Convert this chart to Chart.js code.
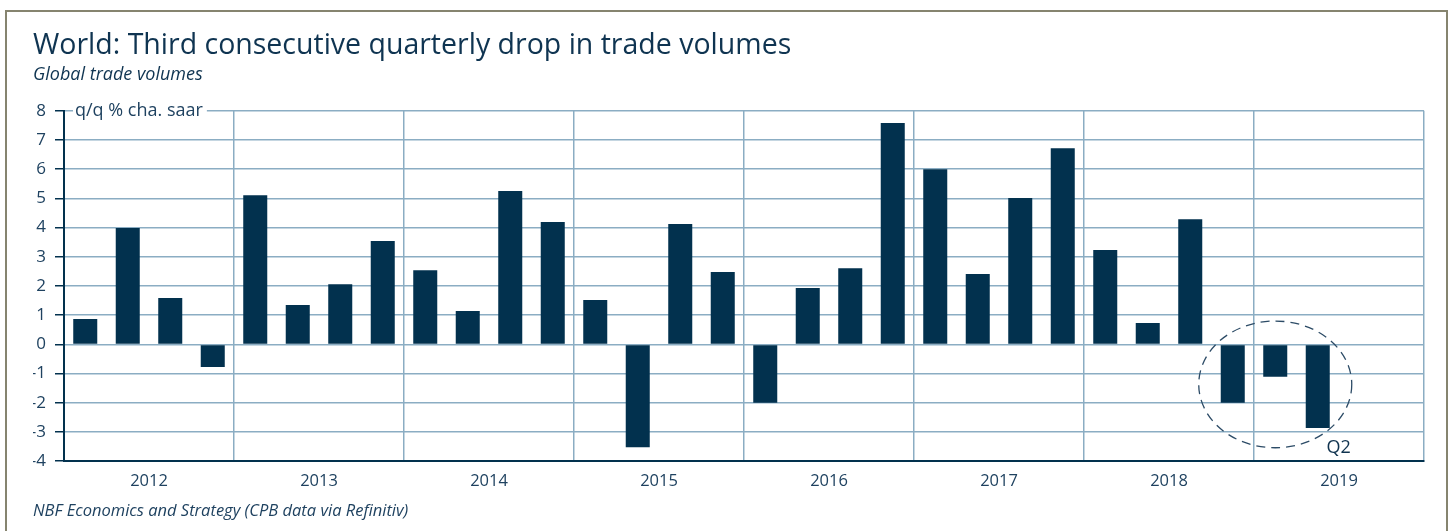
<!DOCTYPE html>
<html>
<head>
<meta charset="utf-8">
<script src="https://cdn.jsdelivr.net/npm/chart.js@4"></script>
<style>
  body { margin: 0; background: #fff; }
  #frame { position: absolute; left: 5px; top: 10px; width: 1439px; height: 540px; border: 2px solid #86846f; }
  #grafico { position: absolute; left: 0; top: 0; }
</style>
</head>
<body>
<div id="frame"></div>
<canvas id="grafico" width="1448" height="531"></canvas>
<script>
// Dados (q/q % cha. saar)
const years = ['2012', '2013', '2014', '2015', '2016', '2017', '2018', '2019'];
const quarters = years.flatMap(y => ['Q1', 'Q2', 'Q3', 'Q4'].map(q => y + ' ' + q));
const tradeVolumes = [
    0.87, 3.99, 1.59, -0.77,
    5.11, 1.35, 2.06, 3.54,
    2.54, 1.14, 5.25, 4.19,
    1.52, -3.52, 4.12, 2.48,
    -2.0, 1.93, 2.61, 7.58,
    6.0, 2.41, 5.01, 6.72,
    3.23, 0.73, 4.29, -2.0,
    -1.11, -2.86
];
const yTicks = [8, 7, 6, 5, 4, 3, 2, 1, 0, -1, -2, -3, -4];

const fonte = "'Open Sans'";
const navy = '#02314e';
const textColor = '#1f4260';
const gridColor = '#8badc3';

// Rótulo do eixo, círculo tracejado e nota "Q2"
const annotations = {
    id: 'annotations',
    afterDraw(chart) {
        const { ctx, chartArea, scales } = chart;
        const x = scales.x, y = scales.y;
        ctx.save();

        // unidade do eixo sobre a linha do 8
        ctx.font = '18px ' + fonte;
        const unit = 'q/q % cha. saar';
        const w = ctx.measureText(unit).width;
        const y8 = y.getPixelForValue(yTicks[0]);
        ctx.fillStyle = '#fff';
        ctx.fillRect(chartArea.left + 9, y8 - 3, w + 6, 6);
        ctx.fillStyle = textColor;
        ctx.textBaseline = 'middle';
        ctx.fillText(unit, chartArea.left + 11, y8);

        // círculo tracejado em volta das três últimas barras
        const cx = x.getPixelForValue(28);
        const slot = x.getPixelForValue(29) - x.getPixelForValue(28);
        const cy = y.getPixelForValue(-1.37);
        const ry = Math.abs(y.getPixelForValue(0) - y.getPixelForValue(2.17));
        ctx.beginPath();
        ctx.setLineDash([9, 6]);
        ctx.lineWidth = 1.3;
        ctx.strokeStyle = '#2c4b66';
        ctx.ellipse(cx, cy, slot * 1.8, ry, 0, 0, Math.PI * 2);
        ctx.stroke();
        ctx.setLineDash([]);

        // Q2
        const last = chart.getDatasetMeta(0).data[tradeVolumes.length - 1];
        ctx.font = '18px ' + fonte;
        ctx.fillStyle = '#10334f';
        ctx.textAlign = 'center';
        ctx.fillText('Q2', last.x + 21, last.y + 20);

        // fonte
        ctx.font = 'italic 16.5px ' + fonte;
        ctx.textAlign = 'left';
        ctx.fillStyle = textColor;
        ctx.fillText('NBF Economics and Strategy (CPB data via Refinitiv)', 33, 511);
        ctx.restore();
    }
};

const config = {
    type: 'bar',
    data: {
        labels: quarters,
        datasets: [{
            label: 'Global trade volumes',
            data: tradeVolumes,
            backgroundColor: navy,
            barPercentage: 0.565,
            categoryPercentage: 1,
            xAxisID: 'x',
            yAxisID: 'y'
        }]
    },
    options: {
        responsive: false,
        animation: false,
        layout: { padding: { left: 33, right: 24, top: 12, bottom: 30 } },
        plugins: {
            legend: { display: false },
            tooltip: { enabled: false },
            title: {
                display: true,
                align: 'start',
                text: 'World: Third consecutive quarterly drop in trade volumes',
                color: '#0f3451',
                font: { family: fonte, size: 28.5, weight: 'normal' },
                padding: { top: 17, bottom: 0 }
            },
            subtitle: {
                display: true,
                align: 'start',
                text: 'Global trade volumes',
                color: '#0f3451',
                font: { family: fonte, size: 18, style: 'italic' },
                padding: { top: 1, bottom: 25 }
            }
        },
        scales: {
            x: {
                display: false,
                type: 'category'
            },
            x2: {
                type: 'category',
                labels: years,
                position: 'bottom',
                offset: true,
                grid: {
                    offset: true,
                    drawTicks: false,
                    lineWidth: 1.5,
                    color: ctx => ctx.index === 0 ? navy : gridColor
                },
                border: { display: true, color: navy, width: 2 },
                ticks: { color: textColor, font: { family: fonte, size: 16.5 }, padding: 10 }
            },
            y: {
                min: -4,
                max: 8,
                ticks: {
                    stepSize: 1,
                    color: textColor,
                    padding: 9,
                    font: { family: fonte, size: 17 }
                },
                grid: {
                    lineWidth: 1.5,
                    color: ctx => ctx.tick && ctx.tick.value === -4 ? navy : gridColor,
                    tickColor: navy,
                    tickLength: 9
                },
                border: { display: true, color: navy, width: 2 },
                afterFit: scale => { scale.width = 31; }
            }
        }
    },
    plugins: [annotations]
};

new Chart(document.getElementById('grafico'), config);
</script>
</body>
</html>
